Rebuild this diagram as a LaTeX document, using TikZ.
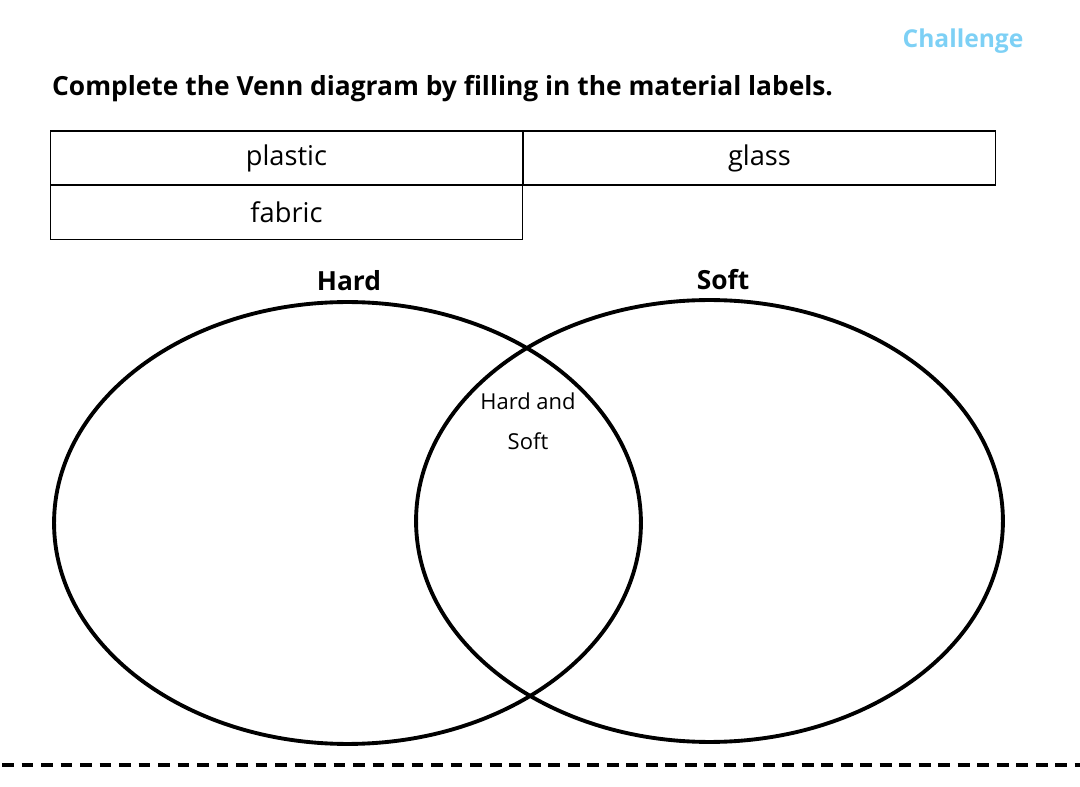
\documentclass[tikz,border=0pt]{standalone}
\usepackage{fontspec}
\setmainfont{Open Sans}
\usetikzlibrary{shapes.geometric}
\definecolor{chalblue}{RGB}{125,208,245}
\tikzset{
  cell/.style={draw,line width=0.6pt,minimum width=9.46cm,minimum height=1.08cm,inner sep=0pt,font=\fontsize{15.5}{18}\selectfont},
  setring/.style={draw,ellipse,line width=2.2pt,minimum width=11.74cm,minimum height=8.84cm,inner sep=0pt},
  setname/.style={font=\bfseries\fontsize{15}{18}\selectfont}
}

\begin{document}
\begin{tikzpicture}[x=0.02cm,y=-0.02cm]
			% page frame
			\useasboundingbox (0,0) rectangle (1080,787);
			% heading
			\node[text=chalblue,font=\bfseries\fontsize{14}{17}\selectfont] (chal) at (963,41) {Challenge};
			\node[anchor=west,font=\bfseries\fontsize{15}{18}\selectfont] (task) at (46,89) {Complete the Venn diagram by filling in the material labels.};
			% word bank
			\node[cell] (plastic) at (286.5,158) {plastic};
			\node[cell] (glass) at (759.5,158) {glass};
			\node[cell] (fabric) at (286.5,212.5) {fabric};
			% the two sets
			\node[setring] (hard) at (347.5,523) {};
			\node[setring] (soft) at (709.5,521) {};
			\node[setname] (hardlbl) at (349,281) {Hard};
			\node[setname] (softlbl) at (723,280) {Soft};
			\node[align=center,font=\fontsize{12.5}{23}\selectfont] (both) at (528,421) {Hard and\\Soft};
			% cut line
			\draw[line width=1.8pt,dash pattern=on 6.8pt off 4.3pt] (2,765) -- (1080,765);
		\end{tikzpicture}
\end{document}
